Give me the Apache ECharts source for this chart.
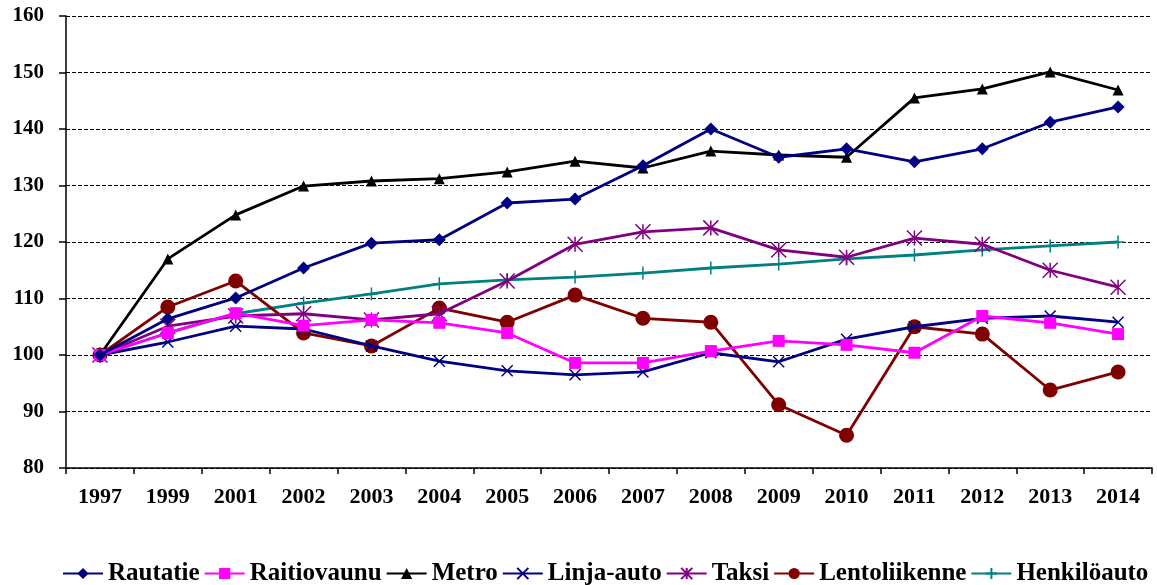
<!DOCTYPE html>
<html>
<head>
<meta charset="utf-8">
<script src="https://cdn.jsdelivr.net/npm/echarts@6/dist/echarts.min.js"></script>
<style>html,body{margin:0;padding:0;background:#fff;}#c{width:1157px;height:585px;}</style>
</head>
<body>
<div id="c"></div>
<script>
const categories = ['1997','1999','2001','2002','2003','2004','2005','2006','2007','2008','2009','2010','2011','2012','2013','2014'];
const rautatie     = [100,106.4,110.1,115.4,119.8,120.4,126.9,127.6,133.5,140.0,135.0,136.5,134.2,136.5,141.2,143.9];
const raitiovaunu  = [100,103.9,107.4,105.2,106.2,105.7,103.9,98.6,98.6,100.7,102.5,101.8,100.4,106.9,105.7,103.7];
const metro        = [100,117.0,124.8,129.9,130.8,131.2,132.4,134.3,133.1,136.1,135.4,135.0,145.5,147.1,150.1,146.9];
const linjaauto    = [100,102.3,105.1,104.6,101.6,98.9,97.2,96.5,97.0,100.4,98.8,102.8,105.0,106.5,106.9,105.8];
const taksi        = [100,105.1,106.9,107.3,106.2,107.3,113.1,119.6,121.8,122.5,118.6,117.3,120.7,119.6,115.0,112.0];
const lentoliikenne= [100,108.5,113.1,103.9,101.6,108.3,105.8,110.6,106.5,105.8,91.2,85.8,105.0,103.7,93.8,97.0];
const henkiloauto  = [100,103.9,107.3,109.2,110.8,112.6,113.3,113.8,114.5,115.4,116.1,117.0,117.7,118.6,119.3,120.0];
const seriesNames = ['Rautatie','Raitiovaunu','Metro','Linja-auto','Taksi','Lentoliikenne','Henkilöauto'];
const seriesData = [rautatie, raitiovaunu, metro, linjaauto, taksi, lentoliikenne, henkiloauto];

const colors = ['#000080','#FF00FF','#000000','#000080','#800080','#800000','#008080'];
const symbols = ['diamond','rect','triangle',
  'path://M0,0L10,10M10,0L0,10',
  'path://M5,0L5,10M0,0L10,10M10,0L0,10',
  'circle',
  'path://M5,0L5,10M0,5L10,5'];
const sizes = [13,12,11,11,15,15,13];
const stroked = [false,false,false,true,true,false,true];
const font = 'Liberation Serif';

const chart = echarts.init(document.getElementById('c'), null, {renderer:'canvas'});
chart.setOption({
  animation:false,
  backgroundColor:'#fff',
  grid:{left:66,right:5,top:16,bottom:117,containLabel:false},
  legend:{
    top:556, left:57, itemGap:4, itemWidth:40, itemHeight:14,
    textStyle:{fontFamily:font,fontWeight:'bold',fontSize:25,color:'#000'},
    data:seriesNames
  },
  xAxis:{
    type:'category', data:categories, boundaryGap:true,
    axisLine:{lineStyle:{color:'#000',width:1.5}},
    axisTick:{show:true,length:6,lineStyle:{color:'#000',width:1.5}},
    axisLabel:{fontFamily:font,fontWeight:'bold',fontSize:22,color:'#000',margin:18}
  },
  yAxis:{
    type:'value', min:80, max:160, interval:10,
    axisLine:{show:true,lineStyle:{color:'#000',width:1.5}},
    axisTick:{show:true,length:7,lineStyle:{color:'#000',width:1.5}},
    axisLabel:{fontFamily:font,fontWeight:'bold',fontSize:21,color:'#000',margin:22},
    splitLine:{show:true,lineStyle:{color:'#000',width:1,type:[4,2]}}
  },
  series: seriesNames.map((n,i)=>({
    name:n, type:'line', data:seriesData[i],
    symbol:symbols[i], symbolSize:sizes[i], showAllSymbol:true,
    lineStyle:{color:colors[i],width:2.8},
    itemStyle: stroked[i] ? {color:colors[i],borderColor:colors[i],borderWidth:1.5}
                          : {color:colors[i],borderWidth:0},
    z: 10-i
  }))
});
</script>
</body>
</html>
